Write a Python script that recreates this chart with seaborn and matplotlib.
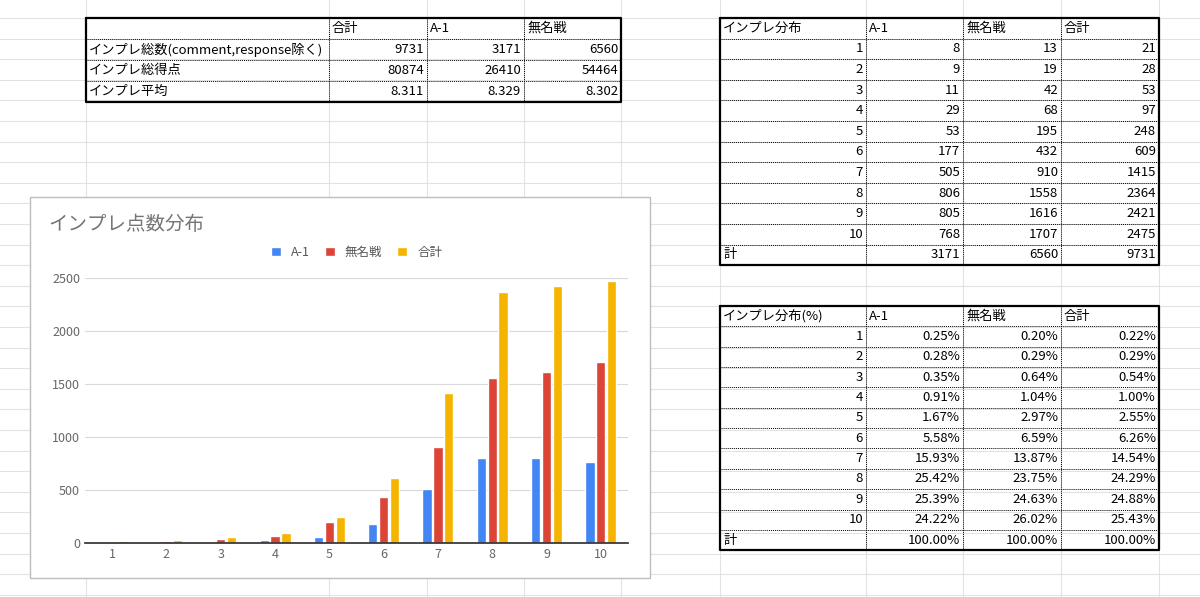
import matplotlib
matplotlib.use("Agg")
import matplotlib.pyplot as plt
import seaborn as sns
import pandas as pd
import numpy as np

sns.set_theme(style="white")
plt.rcParams['font.family'] = ['Noto Sans CJK JP', 'DejaVu Sans']

# ---- data ----
scores = [1, 2, 3, 4, 5, 6, 7, 8, 9, 10]
a1 = [8, 9, 11, 29, 53, 177, 505, 806, 805, 768]
mumei = [13, 19, 42, 68, 195, 432, 910, 1558, 1616, 1707]
total = [21, 28, 53, 97, 248, 609, 1415, 2364, 2421, 2475]
a1_pct = ["0.25%", "0.28%", "0.35%", "0.91%", "1.67%", "5.58%", "15.93%", "25.42%", "25.39%", "24.22%"]
mumei_pct = ["0.20%", "0.29%", "0.64%", "1.04%", "2.97%", "6.59%", "13.87%", "23.75%", "24.63%", "26.02%"]
total_pct = ["0.22%", "0.29%", "0.54%", "1.00%", "2.55%", "6.26%", "14.54%", "24.29%", "24.88%", "25.43%"]
series_names = ["A-1", "無名戦", "合計"]
summary_rows = ["インプレ総数(comment,response除く)", "インプレ総得点", "インプレ平均"]
summary_cols = ["合計", "A-1", "無名戦"]
summary_vals = [["9731", "3171", "6560"], ["80874", "26410", "54464"], ["8.311", "8.329", "8.302"]]
colors = ["#4285F4", "#DB4437", "#F4B400"]

W, H = 1200, 597
fig = plt.figure(figsize=(12, 5.97), dpi=100)
bg = fig.add_axes([0, 0, 1, 1])
bg.set_xlim(0, W); bg.set_ylim(H, 0); bg.axis("off")

# spreadsheet grid
colx = [86, 329, 427, 524, 621, 720, 866, 963, 1061, 1159]
for x in colx:
    bg.plot([x, x], [0, H], color="#e2e2e2", lw=0.8)
for y in np.arange(18 - 20.6, H, 20.6):
    bg.plot([0, W], [y, y], color="#e2e2e2", lw=0.8)

def table(x_edges, y0, rh, rows, aligns):
    n = len(rows)
    y1 = y0 + rh * n
    # inner dotted lines
    for i in range(1, n):
        bg.plot([x_edges[0], x_edges[-1]], [y0 + i * rh] * 2, color="black", lw=0.7, ls=(0, (1, 1)))
    for x in x_edges[1:-1]:
        bg.plot([x, x], [y0, y1], color="black", lw=0.7, ls=(0, (1, 1)))
    bg.plot([x_edges[0], x_edges[-1], x_edges[-1], x_edges[0], x_edges[0]],
            [y0, y0, y1, y1, y0], color="black", lw=1.6)
    for r, row in enumerate(rows):
        yc = y0 + rh * (r + 0.5)
        for c, txt in enumerate(row):
            al = aligns(r, c)
            if al == "left":
                bg.text(x_edges[c] + 3, yc, txt, ha="left", va="center", fontsize=9.5, color="black")
            else:
                bg.text(x_edges[c + 1] - 3, yc, txt, ha="right", va="center", fontsize=9.5, color="black")

# summary table
rows = [[""] + summary_cols] + [[summary_rows[i]] + summary_vals[i] for i in range(3)]
table([86, 329, 427, 524, 621], 18, 21, rows, lambda r, c: "left" if (r == 0 or c == 0) else "right")

# distribution table
rows = [["インプレ分布"] + series_names]
for i in range(10):
    rows.append([str(scores[i]), str(a1[i]), str(mumei[i]), str(total[i])])
rows.append(["計", str(sum(a1)), str(sum(mumei)), str(sum(total))])
al = lambda r, c: "left" if (r == 0 or (r == 11 and c == 0)) else "right"
table([720, 866, 963, 1061, 1159], 18, 20.6, rows, al)

rows = [["インプレ分布(%)"] + series_names]
for i in range(10):
    rows.append([str(scores[i]), a1_pct[i], mumei_pct[i], total_pct[i]])
rows.append(["計", "100.00%", "100.00%", "100.00%"])
table([720, 866, 963, 1061, 1159], 306, 20.35, rows, al)

# chart box
bg.add_patch(plt.Rectangle((30, 197), 620, 381, facecolor="white", edgecolor="#bdbdbd", lw=1, zorder=3))
bg.text(48, 225, "インプレ点数分布", fontsize=14, color="#757575", va="center", ha="left", zorder=4)

ax = fig.add_axes([85 / W, 1 - 543 / H, (628 - 85) / W, (543 - 278) / H])
ax.set_zorder(5)
df = pd.DataFrame({
    "score": [str(s) for s in scores] * 3,
    "value": a1 + mumei + total,
    "series": [series_names[0]] * 10 + [series_names[1]] * 10 + [series_names[2]] * 10,
})
sns.barplot(data=df, x="score", y="value", hue="series", palette=colors, ax=ax,
            width=0.6, gap=0.15, saturation=1)
ax.set_ylim(0, 2500)
ax.set_yticks([0, 500, 1000, 1500, 2000, 2500])
ax.grid(axis="y", color="#d9d9d9", lw=0.8)
ax.set_axisbelow(True)
for s in ["top", "right", "left"]:
    ax.spines[s].set_visible(False)
ax.spines["bottom"].set_color("#333333")
ax.tick_params(axis="both", labelsize=9, colors="#666666", length=0)
ax.set_xlabel(""); ax.set_ylabel("")
ax.set_facecolor("none")
ax.legend(loc="lower center", bbox_to_anchor=(0.5, 1.03), ncol=3, frameon=False,
          fontsize=9, handlelength=0.8, handleheight=0.8, columnspacing=1.2,
          labelcolor="#555555")

fig.savefig("out.png", dpi=100)
